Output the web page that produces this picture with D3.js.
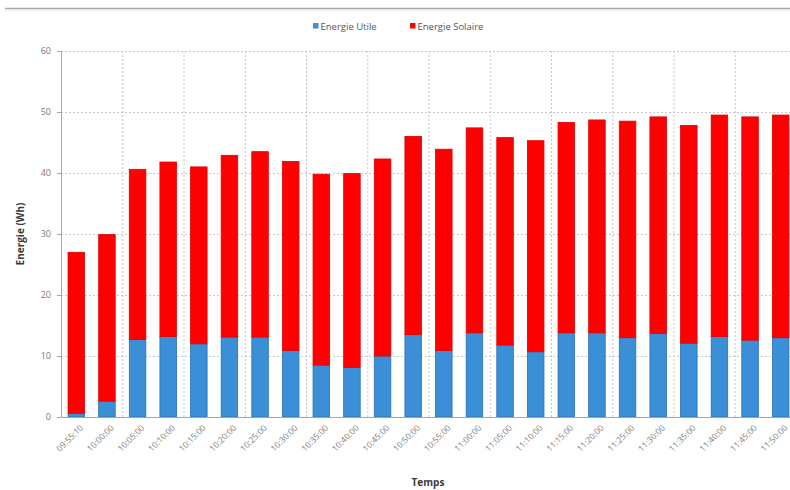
<!DOCTYPE html>
<html>
<head>
<meta charset="utf-8">
<script src="https://cdn.jsdelivr.net/npm/d3@7"></script>
<style>
  html, body { margin: 0; padding: 0; background: #fff; }
  svg { display: block; }
</style>
</head>
<body>
<svg id="chart" width="790" height="490"></svg>
<script>
// Time stamps of each measurement
const categories = [
  "09:55:10", "10:00:00", "10:05:00", "10:10:00", "10:15:00", "10:20:00",
  "10:25:00", "10:30:00", "10:35:00", "10:40:00", "10:45:00", "10:50:00",
  "10:55:00", "11:00:00", "11:05:00", "11:10:00", "11:15:00", "11:20:00",
  "11:25:00", "11:30:00", "11:35:00", "11:40:00", "11:45:00", "11:50:00"
];
// Useful energy (Wh), bottom segment
const energieUtile = [
  0.6, 2.6, 12.7, 13.2, 12.0, 13.1, 13.1, 10.9, 8.5, 8.1, 10.0, 13.5,
  10.9, 13.8, 11.8, 10.7, 13.8, 13.8, 13.0, 13.7, 12.1, 13.2, 12.6, 13.0
];
// Solar energy (Wh), stacked on top
const energieSolaire = [
  26.4, 27.3, 27.9, 28.6, 29.0, 29.8, 30.4, 31.0, 31.3, 31.8, 32.3, 32.5,
  33.0, 33.6, 34.0, 34.6, 34.5, 34.9, 35.5, 35.5, 35.7, 36.3, 36.6, 36.5
];
const yTicks = [0, 10, 20, 30, 40, 50, 60];
const seriesNames = ["Energie Utile", "Energie Solaire"];
const seriesColors = ["#3a8fd6", "#ff0000"];
const seriesStrokes = ["#2b6fb8", "#e00000"];

const svg = d3.select("#chart");
const font = "'Open Sans', 'Liberation Sans', sans-serif";

const plot = { left: 61, right: 796, top: 51, bottom: 417 };

const x = d3.scaleBand()
  .domain(categories)
  .range([plot.left, plot.right])
  .paddingInner(0.46)
  .paddingOuter(0.23);

const y = d3.scaleLinear()
  .domain([0, 60])
  .range([plot.bottom, plot.top]);

// Chart frame line at top
svg.append("line")
  .attr("x1", 5).attr("x2", 790)
  .attr("y1", 8.5).attr("y2", 8.5)
  .attr("stroke", "#a8a8a8").attr("stroke-width", 1.5);
svg.append("line")
  .attr("x1", 5).attr("x2", 790)
  .attr("y1", 10).attr("y2", 10)
  .attr("stroke", "#e4e4e4").attr("stroke-width", 1);

// Horizontal gridlines
svg.append("g")
  .selectAll("line")
  .data(yTicks.filter(d => d > 0))
  .join("line")
  .attr("x1", plot.left).attr("x2", plot.right)
  .attr("y1", d => y(d) + 0.5).attr("y2", d => y(d) + 0.5)
  .attr("stroke", "#c8c8c8")
  .attr("stroke-dasharray", "2,2");

// Vertical gridlines every second category boundary
const step = x.step();
const vBounds = d3.range(2, categories.length + 1, 2).map(i => plot.left + i * step);
svg.append("g")
  .selectAll("line")
  .data(vBounds)
  .join("line")
  .attr("x1", d => d + 0.5).attr("x2", d => d + 0.5)
  .attr("y1", plot.top).attr("y2", plot.bottom)
  .attr("stroke", "#c8c8c8")
  .attr("stroke-dasharray", "2,2");

// Stacked bars
const rows = categories.map((c, i) => ({
  cat: c,
  "Energie Utile": energieUtile[i],
  "Energie Solaire": energieSolaire[i]
}));
const stacked = d3.stack().keys(seriesNames)(rows);

svg.append("g")
  .selectAll("g")
  .data(stacked)
  .join("g")
  .attr("fill", (d, i) => seriesColors[i])
  .attr("stroke", (d, i) => seriesStrokes[i])
  .attr("stroke-width", 0.8)
  .selectAll("rect")
  .data(d => d)
  .join("rect")
  .attr("x", d => x(d.data.cat))
  .attr("width", x.bandwidth())
  .attr("y", d => y(d[1]))
  .attr("height", d => y(d[0]) - y(d[1]));

// Y axis
const yAxis = svg.append("g")
  .attr("transform", `translate(${plot.left},0)`)
  .call(d3.axisLeft(y).tickValues(yTicks).tickSize(4).tickPadding(6));
yAxis.select(".domain").attr("stroke", "#a6a6a6");
yAxis.selectAll(".tick line").attr("stroke", "#a6a6a6");
yAxis.selectAll("text")
  .attr("font-family", font).attr("font-size", 9).attr("fill", "#7a7a7a");

// X axis
const xAxis = svg.append("g")
  .attr("transform", `translate(0,${plot.bottom})`)
  .call(d3.axisBottom(x).tickSize(0).tickPadding(8));
xAxis.select(".domain").attr("stroke", "#a6a6a6");
xAxis.selectAll("text")
  .attr("font-family", font).attr("font-size", 8.5).attr("fill", "#7a7a7a")
  .attr("text-anchor", "end")
  .attr("dy", "0.3em")
  .attr("transform", "translate(0,4) rotate(-45)");

// Axis titles
svg.append("text")
  .attr("x", 428).attr("y", 486)
  .attr("text-anchor", "middle")
  .attr("font-family", font).attr("font-size", 10).attr("font-weight", "bold")
  .attr("fill", "#3a3a3a")
  .text("Temps");

svg.append("text")
  .attr("transform", "translate(24,234) rotate(-90)")
  .attr("text-anchor", "middle")
  .attr("font-family", font).attr("font-size", 10).attr("font-weight", "bold")
  .attr("fill", "#3a3a3a")
  .text("Energie (Wh)");

// Legend
const legendX = [313, 410];
const legend = svg.append("g");
seriesNames.forEach((name, i) => {
  legend.append("rect")
    .attr("x", legendX[i]).attr("y", 23)
    .attr("width", 5.5).attr("height", 5.5)
    .attr("fill", seriesColors[i]);
  legend.append("text")
    .attr("x", legendX[i] + 7.5).attr("y", 29.5)
    .attr("font-family", font).attr("font-size", 9.5)
    .attr("fill", "#555")
    .text(name);
});
</script>
</body>
</html>
